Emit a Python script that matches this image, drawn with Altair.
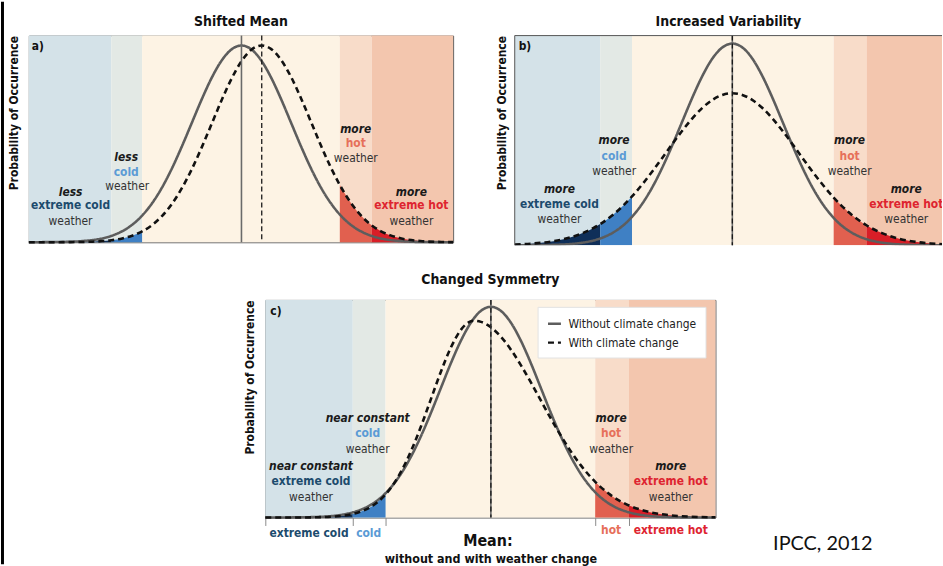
import altair as alt
import pandas as pd

FONT = "'Liberation Sans Narrow', 'Arial Narrow', 'DejaVu Sans Condensed', sans-serif"

SERIES = ["Without climate change", "With climate change"]
BAND_BG = ["#d4e2e8", "#e3e9e5", "#fdf3e4", "#f8dcc9", "#f3c6ae"]
TAIL_FILL = ["#0f2f59", "#3f80c4", None, "#e1604f", "#d81e27"]
KIND_COLOR = {"q": "#1a1a1a", "xc": "#1c4b6d", "c": "#5b9bd5", "h": "#e6705a",
              "xh": "#de2430", "w": "#333333"}

# ---------------- Panel a: Shifted Mean ----------------
a_x = [-21.4, -20.0, -18.0, -16.0, -15.0, -14.0, -13.1, -12.0, -11.0, -10.0,
       -9.0, -8.0, -7.0, -6.0, -5.0, -4.0, -3.0, -2.0, -1.0, 0.0,
       1.0, 2.0, 3.0, 4.0, 5.0, 6.0, 7.0, 8.0, 9.0, 9.9,
       11.0, 12.0, 13.1, 14.0, 15.0, 16.0, 18.0, 20.0, 21.3]
a_without = [0.00, 0.01, 0.03, 0.12, 0.22, 0.39, 0.64, 1.11, 1.76, 2.68,
             3.92, 5.50, 7.43, 9.64, 12.01, 14.38, 16.54, 18.28, 19.41, 19.80,
             19.41, 18.28, 16.54, 14.38, 12.01, 9.64, 7.43, 5.50, 3.92, 2.79,
             1.76, 1.11, 0.64, 0.39, 0.22, 0.12, 0.03, 0.01, 0.00]
a_with = [0.00, 0.00, 0.01, 0.03, 0.06, 0.12, 0.20, 0.38, 0.66, 1.09,
          1.73, 2.64, 3.86, 5.44, 7.35, 9.55, 11.91, 14.29, 16.46, 18.22,
          19.38, 19.80, 19.44, 18.33, 16.62, 14.47, 12.11, 9.73, 7.51, 5.76,
          3.98, 2.72, 1.71, 1.13, 0.69, 0.40, 0.12, 0.03, 0.01]
a_edges = [-21.4, -13.1, -10.0, 9.9, 13.1, 21.3]
a_texts = [("less", -17.2, 5.1, "q"), ("extreme cold", -17.2, 3.7, "xc"), ("weather", -17.2, 2.1, "w"),
           ("less", -11.6, 8.6, "q"), ("cold", -11.6, 7.1, "c"), ("weather", -11.5, 5.7, "w"),
           ("more", 11.5, 11.4, "q"), ("hot", 11.5, 10.0, "h"), ("weather", 11.5, 8.5, "w"),
           ("more", 17.1, 5.1, "q"), ("extreme hot", 17.1, 3.7, "xh"), ("weather", 17.1, 2.1, "w")]

# ---------------- Panel b: Increased Variability ----------------
b_x = [-21.9, -20.0, -18.0, -16.0, -15.0, -14.0, -13.3, -12.0, -11.0, -10.1,
       -9.0, -8.0, -7.0, -6.0, -5.0, -4.0, -3.0, -2.0, -1.0, 0.0,
       1.0, 2.0, 3.0, 4.0, 5.0, 6.0, 7.0, 8.0, 9.0, 10.2,
       11.0, 12.0, 13.5, 14.0, 15.0, 16.0, 18.0, 20.0, 21.9]
b_without = [0.00, 0.01, 0.04, 0.15, 0.27, 0.47, 0.68, 1.28, 1.98, 2.86,
             4.28, 5.93, 7.92, 10.16, 12.55, 14.92, 17.07, 18.80, 19.91, 20.30,
             19.91, 18.80, 17.07, 14.92, 12.55, 10.16, 7.92, 5.93, 4.28, 2.75,
             1.98, 1.28, 0.61, 0.47, 0.27, 0.15, 0.04, 0.01, 0.00]
b_with = [0.07, 0.18, 0.41, 0.88, 1.25, 1.72, 2.13, 3.08, 3.97, 4.91,
          6.21, 7.50, 8.86, 10.25, 11.58, 12.80, 13.84, 14.63, 15.13, 15.30,
          15.13, 14.63, 13.84, 12.80, 11.58, 10.25, 8.86, 7.50, 6.21, 4.80,
          3.97, 3.08, 2.01, 1.72, 1.25, 0.88, 0.41, 0.18, 0.07]
b_edges = [-21.9, -13.3, -10.1, 10.2, 13.5, 21.9]
b_texts = [("more", -17.4, 5.7, "q"), ("extreme cold", -17.4, 4.1, "xc"), ("weather", -17.4, 2.6, "w"),
           ("more", -11.9, 10.6, "q"), ("cold", -11.9, 9.0, "c"), ("weather", -11.9, 7.5, "w"),
           ("more", 11.8, 10.6, "q"), ("hot", 11.8, 9.0, "h"), ("weather", 11.8, 7.5, "w"),
           ("more", 17.5, 5.7, "q"), ("extreme hot", 17.5, 4.1, "xh"), ("weather", 17.5, 2.6, "w")]

# ---------------- Panel c: Changed Symmetry ----------------
c_x = [-22.7, -20.0, -18.0, -16.0, -15.0, -13.9, -13.0, -12.0, -10.6, -10.0,
       -9.0, -8.0, -7.0, -6.0, -5.0, -4.0, -3.0, -2.0, -1.7, -1.0,
       0.0, 1.0, 2.0, 3.0, 4.0, 5.0, 6.0, 7.0, 8.0, 9.0,
       10.5, 11.0, 12.0, 13.9, 15.0, 16.0, 18.0, 20.0, 22.6]
c_without = [0.00, 0.01, 0.04, 0.15, 0.28, 0.52, 0.82, 1.33, 2.44, 3.10,
             4.47, 6.20, 8.27, 10.61, 13.11, 15.59, 17.83, 19.63, 20.06, 20.80,
             21.20, 20.80, 19.63, 17.83, 15.59, 13.11, 10.61, 8.27, 6.20, 4.47,
             2.55, 2.07, 1.33, 0.52, 0.28, 0.15, 0.04, 0.01, 0.00]
c_with = [0.00, 0.00, 0.02, 0.08, 0.17, 0.35, 0.63, 1.12, 2.32, 3.07,
          4.69, 6.77, 9.26, 12.01, 14.75, 17.16, 18.91, 19.75, 19.80, 19.69,
          19.15, 18.21, 16.92, 15.36, 13.64, 11.83, 10.02, 8.31, 6.72, 5.32,
          3.59, 3.11, 2.30, 1.21, 0.81, 0.54, 0.23, 0.09, 0.02]
c_edges = [-22.7, -13.9, -10.6, 10.5, 13.9, 22.6]
c_texts = [("near constant", -18.1, 5.2, "q"), ("extreme cold", -18.1, 3.7, "xc"), ("weather", -18.1, 2.1, "w"),
           ("near constant", -12.4, 10.0, "q"), ("cold", -12.4, 8.5, "c"), ("weather", -12.4, 6.9, "w"),
           ("more", 12.1, 10.0, "q"), ("hot", 12.1, 8.5, "h"), ("weather", 12.1, 6.9, "w"),
           ("more", 18.1, 5.2, "q"), ("extreme hot", 18.1, 3.7, "xh"), ("weather", 18.1, 2.1, "w"),
           ("extreme cold", -18.3, -1.6, "xc"), ("cold", -12.3, -1.6, "c"),
           ("hot", 12.1, -1.3, "h"), ("extreme hot", 18.1, -1.3, "xh")]
c_tick_values = [-22.7, -13.9, -10.6, 10.5, 13.9]

TXT = 12


def panel(x, without, with_, edges, xdom, ydom, width, height, title, title_offset,
          label, label_pos, texts, without_means, with_means, title_pad,
          legend=None, xaxis=None, clip=False, frame=True, extra=None):
    xs = alt.Scale(domain=xdom, nice=False, zero=False)
    ys = alt.Scale(domain=ydom, nice=False, zero=False)
    yaxis = alt.Axis(title="Probability of Occurrence", labels=False, ticks=False, domain=False,
                     grid=False, titleFont=FONT, titleFontSize=12, titleFontWeight="bold",
                     titleColor="#111111", titleAnchor="end", titlePadding=title_pad)

    def X(f="x"):
        return alt.X(f"{f}:Q", scale=xs, axis=xaxis)

    def Y(f="y"):
        return alt.Y(f"{f}:Q", scale=ys, axis=yaxis, stack=None)

    bands = pd.DataFrame({"x": edges[:-1], "x2": edges[1:], "fill": BAND_BG})
    rect = alt.Chart(bands).mark_rect(clip=clip).encode(
        x=X(), x2="x2:Q", fill=alt.Fill("fill:N", scale=None))

    rows = []
    for i in [0, 1, 3, 4]:
        for xv, yv in zip(x, with_):
            if edges[i] - 1e-9 <= xv <= edges[i + 1] + 1e-9:
                rows.append({"x": xv, "y": yv, "band": i, "fill": TAIL_FILL[i]})
    tails = alt.Chart(pd.DataFrame(rows)).mark_area(interpolate="monotone", clip=clip).encode(
        x=X(), y=Y(), fill=alt.Fill("fill:N", scale=None), detail="band:N")

    curves = pd.DataFrame({"x": list(x) * 2, "y": list(without) + list(with_),
                           "series": [SERIES[0]] * len(x) + [SERIES[1]] * len(x)})
    stroke = alt.Stroke("series:N", scale=alt.Scale(domain=SERIES, range=["#5d5d5d", "#111111"]),
                        legend=legend)
    dash = alt.StrokeDash("series:N", scale=alt.Scale(domain=SERIES, range=[[1, 0], [6, 4]]),
                          legend=legend)
    base_curve = alt.Chart(curves).mark_line(interpolate="monotone", strokeWidth=2.6, clip=clip)
    solid = base_curve.transform_filter(alt.datum.series == SERIES[0]).encode(
        x=X(), y=Y(), stroke=stroke, strokeDash=dash)
    dashed = base_curve.transform_filter(alt.datum.series == SERIES[1]).encode(
        x=X(), y=Y(), stroke=stroke, strokeDash=dash)

    mean_solid = alt.Chart(pd.DataFrame({"x": without_means})).mark_rule(
        color="#6a6a6a", strokeWidth=1.6).encode(x=X())
    mean_dash = alt.Chart(pd.DataFrame({"x": with_means})).mark_rule(
        color="#1a1a1a", strokeWidth=1.3, strokeDash=[5, 3]).encode(x=X())

    tdf = pd.DataFrame([{"text": t, "x": xv, "y": yv, "kind": k, "color": KIND_COLOR[k]}
                        for t, xv, yv, k in texts])
    tbase = dict(font=FONT, fontSize=TXT, baseline="middle", align="center", clip=clip)
    tq = alt.Chart(tdf).transform_filter(alt.datum.kind == "q").mark_text(
        fontStyle="italic", fontWeight="bold", **tbase).encode(
        x=X(), y=Y(), text="text:N", color=alt.Color("color:N", scale=None))
    tb = alt.Chart(tdf).transform_filter(
        (alt.datum.kind != "q") & (alt.datum.kind != "w")).mark_text(
        fontWeight="bold", **tbase).encode(
        x=X(), y=Y(), text="text:N", color=alt.Color("color:N", scale=None))
    tw = alt.Chart(tdf).transform_filter(alt.datum.kind == "w").mark_text(
        fontWeight="normal", **tbase).encode(
        x=X(), y=Y(), text="text:N", color=alt.Color("color:N", scale=None))
    ldf = pd.DataFrame({"text": [label], "x": [label_pos[0]], "y": [label_pos[1]]})
    tl = alt.Chart(ldf).mark_text(font=FONT, fontSize=12, fontWeight="bold", align="left",
                                  baseline="middle", color="#111111").encode(
        x=X(), y=Y(), text="text:N")

    layers = [rect, tails, solid, dashed, mean_solid, mean_dash, tq, tb, tw, tl]
    if not frame:
        fr = pd.DataFrame({"x": [xdom[0]], "y": [ydom[1]]})
        layers.append(alt.Chart(fr).mark_rule(color="#555555", strokeWidth=1).encode(y=Y()))
        layers.append(alt.Chart(fr).mark_rule(color="#555555", strokeWidth=1).encode(x=X()))
    if extra is not None:
        layers.extend(extra(X, Y))

    return alt.layer(*layers).properties(
        width=width, height=height,
        title=alt.TitleParams(title, font=FONT, fontSize=14, fontWeight="bold", color="#111111",
                              offset=title_offset),
        view=alt.ViewBackground(stroke="#555555" if frame else None, strokeWidth=1),
    )


def c_extra(X, Y):
    mdf = pd.DataFrame({"text": ["Mean:"], "x": [-0.3], "y": [-2.4]})
    wdf = pd.DataFrame({"text": ["without and with weather change"], "x": [0.0], "y": [-4.2]})
    idf = pd.DataFrame({"text": ["IPCC, 2012"], "x": [28.4], "y": [-2.7]})
    return [
        alt.Chart(mdf).mark_text(font=FONT, fontSize=16, fontWeight="bold", color="#111111",
                                 baseline="middle").encode(x=X(), y=Y(), text="text:N"),
        alt.Chart(wdf).mark_text(font=FONT, fontSize=12.5, fontWeight="bold", color="#111111",
                                 baseline="middle").encode(x=X(), y=Y(), text="text:N"),
        alt.Chart(idf).mark_text(font="Lato", fontSize=20, color="#111111", align="left",
                                 baseline="middle").encode(x=X(), y=Y(), text="text:N"),
    ]


pa = panel(a_x, a_without, a_with, a_edges, [-21.4, 21.3], [0, 20.8], 427, 208,
           "Shifted Mean", 6, "a)", (-21.1, 19.7), a_texts, [0.0], [2.04], 8)
pb = panel(b_x, b_without, b_with, b_edges, [-21.9, 21.1], [0, 21.1], 430, 211,
           "Increased Variability", 6, "b)", (-21.5, 20.0), b_texts, [0.0], [0.0], 6,
           clip=True, frame=False)
legend_c = alt.Legend(orient="none", legendX=274, legendY=7, title=None, symbolType="stroke",
                      symbolSize=169, symbolStrokeWidth=2.5, labelFont=FONT, labelFontSize=12,
                      labelColor="#222222", labelOffset=6, fillColor="white", strokeColor="#e2e2e2",
                      padding=9, rowPadding=5)
c_axis = alt.Axis(values=c_tick_values, labels=False, domain=False, ticks=True, tickSize=8,
                  tickColor="#8a8a8a", tickWidth=1, grid=False, title=None)
pc = panel(c_x, c_without, c_with, c_edges, [-22.7, 22.6], [0, 21.9], 453, 219,
           "Changed Symmetry", 12, "c)", (-22.2, 20.8), c_texts, [0.0], [0.0], 9,
           legend=legend_c, xaxis=c_axis, extra=c_extra)

dummy = pd.DataFrame({"v": [0]})
line = alt.Chart(dummy).mark_point(opacity=0, size=0).properties(
    width=3, height=566, view=alt.ViewBackground(fill="#000000", stroke=None))
top_spacer = alt.Chart(dummy).mark_point(opacity=0, size=0).properties(
    width=1, height=1, view=alt.ViewBackground(stroke=None))
left_spacer = alt.Chart(dummy).mark_point(opacity=0, size=0).properties(
    width=215, height=1, view=alt.ViewBackground(stroke=None))

ind = dict(stroke="independent", strokeDash="independent")
top_row = alt.hconcat(pa, pb, spacing=36).resolve_scale(**ind)
bottom_row = alt.hconcat(left_spacer, pc, spacing=0).resolve_scale(**ind)
inner = alt.vconcat(top_row, bottom_row, spacing=24).resolve_scale(**ind)
main = alt.vconcat(top_spacer, inner, spacing=11).resolve_scale(**ind)
chart = alt.hconcat(line, main, spacing=3).resolve_scale(**ind).properties(
    padding={"left": 1, "top": 0, "right": 0, "bottom": 0}, background="white"
).configure_view(stroke=None)

chart.save("out.html", embed_options={"renderer": "svg", "actions": False})
